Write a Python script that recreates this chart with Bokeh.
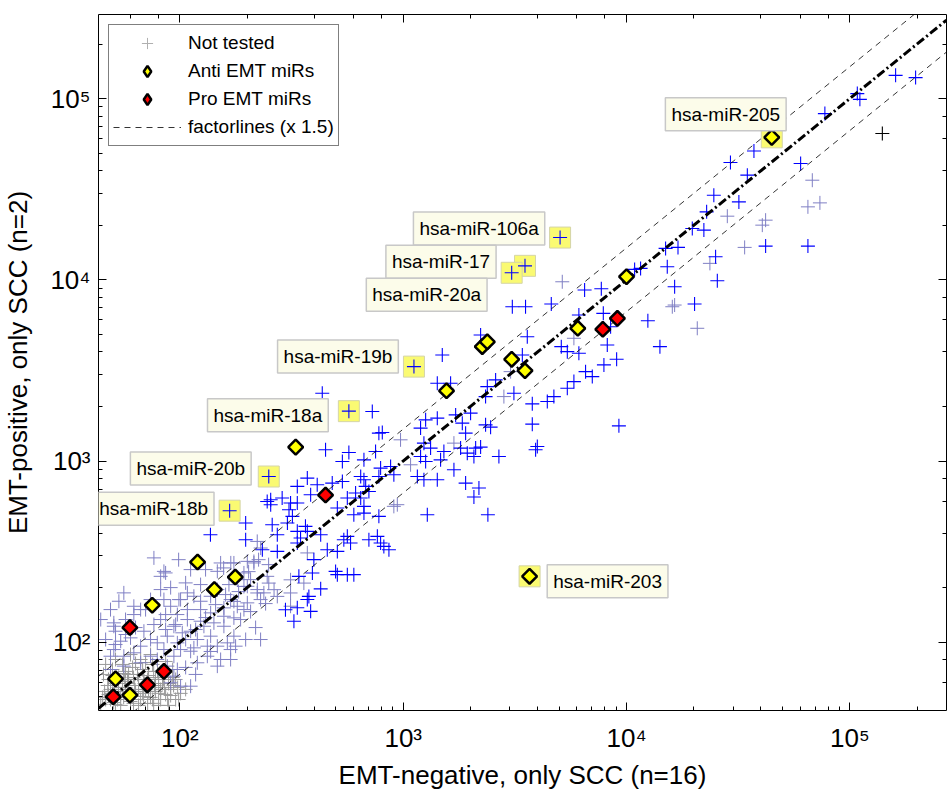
from bokeh.plotting import figure
from bokeh.models import Range1d, LogAxis, Label, Legend, LegendItem
from bokeh.embed import file_html
from bokeh.resources import INLINE

# ---------------- data ----------------
X_MIN, X_MAX = 43.2, 270900
Y_MIN, Y_MAX = 42.0, 291000
FACTOR = 1.5

x_ticks = [100, 1000, 10000, 100000]
tick_labels = ["10²", "10³", "10⁴", "10⁵"]

anti_x = [44700, 10000, 6050, 2260, 2380, 3060, 3510, 1563, 330, 120, 177, 142.6, 75.2, 51.5, 59.7, 3680]
anti_y = [61100, 10400, 5400, 4280, 4550, 3640, 3150, 2440, 1193, 277, 229, 195, 160, 62.8, 51.0, 231]

pro_x = [7830, 9100, 449, 59.7, 84.8, 71.5, 50.3]
pro_y = [5330, 6120, 649, 120.5, 69.0, 58.2, 50.0]

lab_names = ["hsa-miR-205", "hsa-miR-106a", "hsa-miR-17", "hsa-miR-20a", "hsa-miR-19b",
             "hsa-miR-18a", "hsa-miR-20b", "hsa-miR-18b", "hsa-miR-203"]
lab_x = [44700, 5040, 3510, 3060, 1117, 571, 250, 167, 3680]
lab_y = [61100, 17100, 11940, 10930, 3318, 1884, 821, 532, 231]
lab_kind = ["anti", "plus", "plus", "plus", "plus", "plus", "plus", "plus", "anti"]

blue_x = [160300, 197000, 108000, 110900, 77300, 37200, 29200, 60200, 34750, 24600, 31850, 22840,
          19700, 22200, 14960, 17000, 15220, 25050, 25500, 41960, 64900, 16420, 20170, 12460,
          14110, 10870, 11560, 6490, 7710, 3080, 3530, 4603, 6118, 7870, 8485, 8200, 7920, 9030,
          6555, 7025, 5812, 5430, 5103, 5430, 6118, 3594, 3415, 2593, 2380, 3131, 4728, 2221,
          3784, 4418, 2338, 2338, 2462, 3784, 9243, 2110, 2221, 2682, 3986, 3916, 2183, 2073,
          2394, 1717, 2003, 1839, 1903, 1807, 1936, 2073, 1687, 1903, 1496, 1421, 1630, 434,
          727, 449, 571, 534, 667, 778, 806, 1196, 1260, 1421, 1238, 1326, 1521, 1196, 1260,
          1470, 878, 792, 778, 908, 1157, 1238, 1421, 667, 645, 534, 372, 412, 481, 335.5, 679,
          702, 612, 562, 645, 385, 287, 313, 335.5, 255, 255, 308, 319, 507, 601, 667, 778,
          1282, 197, 259, 303, 365, 372, 335.5, 273, 347, 427, 562, 581, 542, 702, 766, 792,
          819, 863, 457, 507, 335.5, 234, 273, 197, 137, 398, 498, 507, 562, 601, 427, 378,
          372, 341, 392, 667, 246, 297, 335.5, 324, 385, 752]
blue_y = [134300, 130500, 106500, 99000, 82600, 51400, 44400, 43800, 37800, 29300, 26900, 23700,
          19200, 18800, 14900, 15090, 11800, 13400, 9880, 15340, 15340, 9155, 7350, 5945,
          4275, 11410, 11560, 8780, 8925, 7100, 7100, 7350, 6390, 6530, 5510, 4369, 3390, 3643,
          3113, 2922, 2742, 2522, 4275, 4013, 3932, 4853, 3848, 2802, 2574, 2366, 2267, 4960,
          2067, 2128, 2267, 1583, 1538, 1597, 1563, 1178, 1193, 1059, 1202, 1153, 709, 633,
          505, 1797, 1837, 1618, 1425, 1178, 1105, 1059, 894, 755, 3848, 2687, 2687, 2366,
          1874, 1153, 1114, 994, 1015, 1425, 1436, 1519, 1687, 1724, 1255, 1178, 1128, 1059, 994,
          1015, 933, 914, 821, 840, 821, 788, 788, 788, 821, 771, 805, 739, 755, 724, 724,
          679, 666, 625, 625, 651, 625, 586, 586, 611, 574, 538, 495, 550, 505, 562, 495,
          505, 455, 445, 455, 436, 409, 409, 392, 376, 392, 384, 353, 368, 368, 384, 353,
          338, 324, 324, 317, 353, 324, 317, 368, 392, 285.6, 246, 236, 236, 236, 197, 179,
          172, 231, 241, 516, 598, 151, 155, 130.5, 148, 1128]

lav_x = [33800, 67900, 64900, 73450, 41960, 40550, 28270, 23620, 16420, 16030, 20740, 5155,
         5812, 2824, 3026, 1687, 973, 1079, 908, 359, 941, 222, 230, 169, 157, 214.5, 246,
         250, 193.5, 222, 273, 313, 313, 372, 313, 264, 174.5,
         56.1, 53.3, 62.2, 70.2, 62.2, 50.6, 51.5, 86.3, 82.0, 106.1, 99.0, 84.8, 90.9, 86.3,
         108.0, 115.5, 130.3, 147.1, 152.2, 174.5, 200.4, 214.5, 207.3, 200.4, 222.2, 237.7,
         229.8, 200.4, 193.5, 174.5, 157.4, 137.3, 123.8, 123.8, 108.0, 111.7, 94.0, 87.8,
         79.2, 97.4, 119.7, 137.3, 157.4, 174.5, 163.1, 132.7, 111.7, 132.7, 119.7, 147.1,
         168.7, 177.6, 111.7, 97.4, 94.0, 50.6, 48.9, 56.1, 62.2, 66.7, 73.9, 79.2, 66.7,
         56.1, 48.9, 87.8, 94.0, 90.9, 100.7, 54.3, 60.1, 69.0, 76.5, 82.0, 97.4, 108.0,
         123.8, 137.3, 147.1, 165.8, 180.7, 193.5, 168.7, 180.7, 157.4, 142.0, 128.1, 102.5,
         84.8, 100.7, 115.5, 147.1, 76.5, 84.8, 50.6,
         46.5, 51.5, 57.1, 63.3, 73.9, 86.3, 95.7, 106.1, 117.6, 130.3, 144.5, 160.2, 183.2,
         203.1, 225.1, 249.6, 187.0, 207.3, 218.3, 242.0, 123.8, 111.7, 98.7, 90.9, 100.7,
         137.3, 152.2, 117.6, 106.1, 57.1, 66.7, 73.9, 82.0, 48.9, 44.2, 168.7, 197.0, 229.8]
lav_y = [15090, 35440, 25260, 26570, 21330, 20020, 22440, 12320, 7255, 7100, 5400, 9750,
         4755, 2267, 3113, 1255, 1309, 953, 562, 212, 574, 360, 331, 274, 257, 279, 231,
         212, 203, 187, 179, 187, 158, 311, 221, 195, 168,
         187.2, 168.3, 157.9, 151.4, 142.1, 122.5, 115.0, 241.2, 231.0, 212.5, 171.9, 171.9,
         157.9, 142.1, 187.2, 179.3, 251.6, 246.2, 273.8, 273.8, 279.4, 273.8, 221.5, 203.5,
         195.2, 187.2, 171.9, 164.9, 151.4, 136.3, 139.1, 145.2, 151.4, 130.6, 133.4, 115.0,
         122.5, 108.0, 99.2, 99.2, 103.5, 108.0, 122.5, 108.0, 99.2, 95.1, 89.2, 83.7, 77.0,
         73.8, 80.3, 95.1, 57.2, 70.7, 83.7, 91.1, 83.7, 83.7, 87.4, 95.1, 83.7, 80.3, 77.0,
         73.8, 70.7, 73.8, 65.0, 59.7, 57.2, 101.3, 105.7, 115.0, 125.2, 133.4, 142.1, 151.4,
         168.3, 179.3, 195.2, 208.0, 221.5, 241.2, 171.9, 157.9, 154.7, 127.9, 122.5, 112.7,
         91.1, 91.1, 93.1, 95.1, 292, 246, 127.9,
         103.5, 97.1, 110.3, 120.5, 103.5, 117.5, 125.2, 103.5, 117.5, 136.8, 161.3, 183.2, 190.3,
         245.2, 285.5, 268.0, 133.4, 147.6, 120.5, 163.4, 208.0, 251.6, 285.5, 200.2, 171.9,
         88.9, 80.3, 66.4, 72.6, 133.4, 151.4, 171.9, 195.2, 151.4, 133.4, 91.1, 103.5, 103.5]

black_x = [139800]
black_y = [64100]

gray_x = [46.5, 48.9, 51.5, 54.3, 57.1, 60.1, 63.3, 66.7, 70.2, 73.9, 77.8, 82.0, 86.3, 90.9,
          47.9, 53.1, 58.9, 65.3, 72.4, 80.3, 89.0, 49.9, 55.4, 61.4, 68.1, 75.5, 83.6, 95.7,
          100.7, 44.2, 46.0, 51.0, 56.6, 62.7, 69.5, 77.0, 85.4, 66.7, 73.9, 60.1, 95.7, 92.8,
          106.1, 48.9, 58.3, 71.7, 82.0, 53.1,
          45.1, 47.5, 49.9, 52.6, 55.4, 58.3, 61.4, 64.6, 68.1, 71.7, 75.5, 79.4, 83.6, 88.1,
          92.8, 97.7, 46.5, 51.5, 57.1, 63.3, 70.2, 77.8, 86.3, 73.9, 65.3, 54.3, 80.3, 58.9,
          49.9, 90.9,
          45.5, 47.9, 50.5, 53.1, 56.0, 58.9, 62.0, 65.3, 68.8, 72.4, 76.3, 80.3, 84.5, 89.0,
          93.7, 98.7, 62.0, 68.8, 76.3, 56.0]
gray_y = [48.3, 54.9, 45.4, 51.5, 56.3, 47.1, 53.5, 48.3, 54.9, 49.6, 53.5, 48.3, 51.5, 54.9,
          62.3, 63.9, 66.4, 62.3, 65.5, 62.3, 59.2, 70.7, 75.4, 72.6, 70.7, 75.4, 69.0, 48.3,
          52.2, 45.4, 53.5, 59.2, 60.8, 57.7, 59.2, 57.7, 56.3, 80.3, 85.5, 85.5, 62.3, 70.7,
          54.9, 48.3, 51.5, 45.9, 54.9, 56.3,
          49.6, 57.7, 65.5, 48.3, 54.9, 62.3, 50.2, 66.4, 52.2, 62.3, 48.3, 69.0, 59.2, 48.3,
          63.9, 56.3, 75.4, 80.3, 69.0, 76.3, 77.3, 63.9, 78.3, 56.3, 44.8, 44.8, 44.8, 54.9,
          52.2, 50.8,
          66.4, 51.5, 46.5, 53.5, 49.6, 59.2, 46.0, 54.9, 50.2, 53.5, 46.0, 52.2, 62.3, 44.8,
          57.7, 48.3, 63.9, 65.5, 69.0, 67.2]

# label offsets (screen px) relative to their points
lab_dx = [-46, -81, -84, -85, -76, -81, -78, -76, 78]
lab_dy = [23, 9, 4, -22, 10, -4, 8, 2, -5]

# ---------------- figure ----------------
FONT = "Liberation Sans"

p = figure(width=947, height=792, x_axis_type="log", y_axis_type="log",
           x_range=Range1d(X_MIN, X_MAX), y_range=Range1d(Y_MIN, Y_MAX),
           output_backend="svg", toolbar_location=None,
           min_border_left=98, min_border_right=1, min_border_top=14, min_border_bottom=81,
           background_fill_color="white", border_fill_color="white")
p.grid.visible = False
p.outline_line_color = None

x_bottom = p.below[0]
y_left = p.left[0]

top_axis = LogAxis(major_label_text_font_size="1px", major_label_text_alpha=0.0,
                   major_label_standoff=0)
right_axis = LogAxis(major_label_text_font_size="1px", major_label_text_alpha=0.0,
                     major_label_standoff=0)
p.add_layout(top_axis, "above")
p.add_layout(right_axis, "right")

for ax in [x_bottom, y_left, top_axis, right_axis]:
    ax.major_tick_in = 8
    ax.major_tick_out = 0
    ax.minor_tick_in = 4
    ax.minor_tick_out = 0
    ax.axis_line_color = "black"
    ax.major_tick_line_color = "black"
    ax.minor_tick_line_color = "black"
    ax.axis_line_width = 1

overrides = dict(zip(x_ticks, tick_labels))
for ax in [x_bottom, y_left]:
    ax.major_label_overrides = overrides
    ax.major_label_text_font = FONT
    ax.major_label_text_font_size = "26px"
    ax.major_label_text_color = "black"
    ax.axis_label_text_font = FONT
    ax.axis_label_text_font_size = "26px"
    ax.axis_label_text_font_style = "normal"
    ax.axis_label_text_color = "black"

x_bottom.axis_label = "EMT-negative, only SCC (n=16)"
y_left.axis_label = "EMT-positive, only SCC (n=2)"
x_bottom.major_label_standoff = 12
y_left.major_label_standoff = 8
x_bottom.axis_label_standoff = 4
y_left.axis_label_standoff = 14

CROSS = 14
# legend sample glyphs: one point each, hidden under the real marks drawn on top
leg_gray = p.scatter(gray_x[:1], gray_y[:1], marker="cross", line_color="#b0b0b0", line_width=1)
p.scatter(gray_x, gray_y, marker="cross", size=CROSS, line_color="#9a9a9a", line_width=1)
p.scatter(lav_x, lav_y, marker="cross", size=CROSS, line_color="#7f7fc4", line_width=1)
p.scatter(blue_x, blue_y, marker="cross", size=CROSS, line_color="#0000ff", line_width=1.1)
p.scatter(black_x, black_y, marker="cross", size=CROSS, line_color="black", line_width=1.1)

line_x = [X_MIN, X_MAX]
r_fup = p.line(line_x, [v * FACTOR for v in line_x], line_color="black", line_width=0.8, line_dash="6 5")
p.line(line_x, [v / FACTOR for v in line_x], line_color="black", line_width=0.8, line_dash="6 5")
p.line(line_x, line_x, line_color="black", line_width=3, line_dash="9 3 2 3")

# highlight squares behind labelled miRs
p.scatter(lab_x, lab_y, marker="square", size=21, fill_color="#fafa72", line_color="#d4d4a8", line_width=1)
plus_x = [x for x, k in zip(lab_x, lab_kind) if k == "plus"]
plus_y = [y for y, k in zip(lab_y, lab_kind) if k == "plus"]
p.scatter(plus_x, plus_y, marker="cross", size=CROSS, line_color="#0000ff", line_width=1.1)

leg_anti = p.scatter(anti_x[:1], anti_y[:1], marker="diamond", size=12,
                     fill_color="#ffff00", line_color="black", line_width=2.5)
leg_pro = p.scatter(pro_x[:1], pro_y[:1], marker="diamond", size=12,
                    fill_color="#ff0000", line_color="black", line_width=2.5)
p.scatter(anti_x, anti_y, marker="square", angle=0.785398, size=10.5,
          fill_color="#ffff00", line_color="black", line_width=2.5)
p.scatter(pro_x, pro_y, marker="square", angle=0.785398, size=10.5,
          fill_color="#ff0000", line_color="black", line_width=2.5)

for name, x, y, dx, dy in zip(lab_names, lab_x, lab_y, lab_dx, lab_dy):
    p.add_layout(Label(x=x, y=y, x_offset=dx, y_offset=dy, text=name,
                       text_font=FONT, text_font_size="19px", text_color="black",
                       text_align="center", text_baseline="middle",
                       background_fill_color="#fcfcea", background_fill_alpha=1.0,
                       border_line_color="#c8c8c8", border_line_width=1.5, padding=6))

legend = Legend(items=[LegendItem(label="Not tested", renderers=[leg_gray]),
                       LegendItem(label="Anti EMT miRs", renderers=[leg_anti]),
                       LegendItem(label="Pro EMT miRs", renderers=[leg_pro]),
                       LegendItem(label="factorlines (x 1.5)", renderers=[r_fup])],
                location="top_left", margin=10, padding=4, spacing=0,
                glyph_width=68, glyph_height=28, label_height=20, label_standoff=7,
                label_text_font=FONT, label_text_font_size="19px", label_text_color="black",
                border_line_color="black", border_line_width=1.5,
                background_fill_color="white", background_fill_alpha=1.0)
p.add_layout(legend)

open("out.html", "w").write(file_html(p, INLINE))
